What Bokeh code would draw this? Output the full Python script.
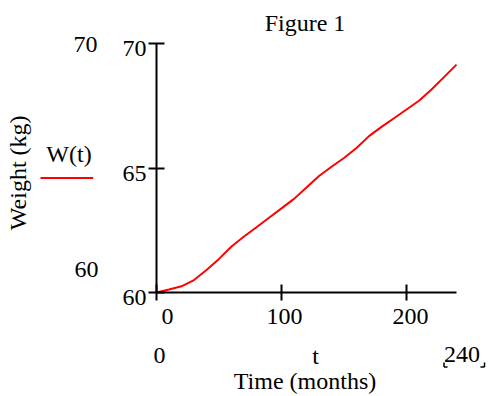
import math
from bokeh.plotting import figure
from bokeh.models import Range1d, FixedTicker, Label, Arrow, LinearAxis
from bokeh.embed import file_html
from bokeh.resources import INLINE

# ---- data ----
months = [0, 10, 20, 30, 40, 50, 60, 70, 80, 90, 100, 110, 120,
          130, 140, 150, 160, 170, 180, 190, 200, 210, 220, 230, 240]
weight_kg = [60.00, 60.12, 60.25, 60.50, 60.90, 61.35, 61.85, 62.25, 62.62,
             63.00, 63.38, 63.76, 64.22, 64.68, 65.05, 65.40, 65.80, 66.28,
             66.65, 67.00, 67.35, 67.70, 68.15, 68.65, 69.15]
x_ticks = [0, 100, 200]
x_tick_labels = ["0", "100", "200"]
y_ticks = [60, 65, 70]
y_tick_labels = ["60", "65", "70"]
x_min, x_max = 0, 240
y_min, y_max = 60, 70
title_text = "Figure 1"
x_label = "Time (months)"
y_label = "Weight (kg)"
legend_label = "W(t)"
x_var = "t"

# ---- layout (pixels) ----
W, H = 488, 396
PX0, PX1 = 156, 456      # pixel columns of x_min, x_max
PY0, PY1 = 292, 43       # pixel rows of y_min, y_max
FONT = "Liberation Serif"
FS = "24px"
BL = 8                   # baseline correction (px)

sx = (x_max - x_min) / (PX1 - PX0)
sy = (y_max - y_min) / (PY0 - PY1)
xr = Range1d(x_min - PX0 * sx, x_max + (W - PX1) * sx)
yr = Range1d(y_min - (H - PY0) * sy, y_max + PY1 * sy)

p = figure(width=W, height=H, x_range=xr, y_range=yr,
           output_backend="svg", toolbar_location=None,
           x_axis_location=None, y_axis_location=None,
           min_border=0)
p.xgrid.grid_line_color = None
p.ygrid.grid_line_color = None
p.outline_line_color = None
p.background_fill_color = "white"
p.border_fill_color = "white"

axis_style = dict(major_tick_in=8, major_tick_out=8,
                  minor_tick_line_color=None,
                  axis_line_width=2, axis_line_color="black",
                  major_tick_line_width=2, major_tick_line_color="black",
                  major_label_text_color=None)
xa = LinearAxis(ticker=FixedTicker(ticks=x_ticks), fixed_location=y_min,
                bounds=(x_min, x_max), **axis_style)
ya = LinearAxis(ticker=FixedTicker(ticks=y_ticks), fixed_location=x_min,
                bounds=(y_min, y_max), **axis_style)
p.add_layout(xa, "below")
p.add_layout(ya, "left")

p.line(months, weight_kg, line_color="red", line_width=2)

y_mid = (y_min + y_max) / 2
x_mid = (x_min + x_max) / 2


def label(text, x, y, dx, dy, align="center", angle=0.0):
    if angle:
        dx -= BL
    else:
        dy += BL
    p.add_layout(Label(x=x, y=y, x_offset=dx, y_offset=dy, text=text,
                       text_font=FONT, text_font_size=FS, text_color="black",
                       text_align=align, text_baseline="alphabetic",
                       angle=angle))


def seg(x0, y0, dx0, dy0, dx1, dy1, color="black", width=1.5):
    p.add_layout(Arrow(start=None, end=None,
                       x_start=x0 + dx0 * sx, y_start=y0 + dy0 * sy,
                       x_end=x0 + dx1 * sx, y_end=y0 + dy1 * sy,
                       line_color=color, line_width=width))


# tick labels
for v, s in zip(y_ticks, y_tick_labels):
    label(s, x_min, v, -10, -13, "right")
for v, s, off in zip(x_ticks, x_tick_labels, [11, 3, 4]):
    label(s, v, y_min, off, -31.5, "center")

# range limits (Mathcad style)
label(str(y_max), x_min, y_max, -71, -9)
label(str(y_min), x_min, y_min, -70, 15)
label(str(x_min), x_min, y_min, 3, -71)
label(x_var, x_mid, y_min, 9, -71)
label(str(x_max), x_max, y_min, 5.5, -70)
seg(x_max, y_min, -12.5, -70, -12.5, -74.5)
seg(x_max, y_min, -12.5, -74.5, -9, -74.5)
seg(x_max, y_min, 24, -74.5, 28, -74.5)
seg(x_max, y_min, 28, -70, 28, -74.5)

# titles
label(title_text, x_mid, y_max, -1.5, 13)
label(x_label, x_mid, y_min, -1.5, -96)
label(y_label, x_min, y_mid, -131, -4.8, "center", math.pi / 2)

# legend
label(legend_label, x_min, y_mid, -87.5, 6)
seg(x_min, y_mid, -116, -10, -63.3, -10, color="red", width=2)

open("out.html", "w").write(file_html(p, INLINE))
